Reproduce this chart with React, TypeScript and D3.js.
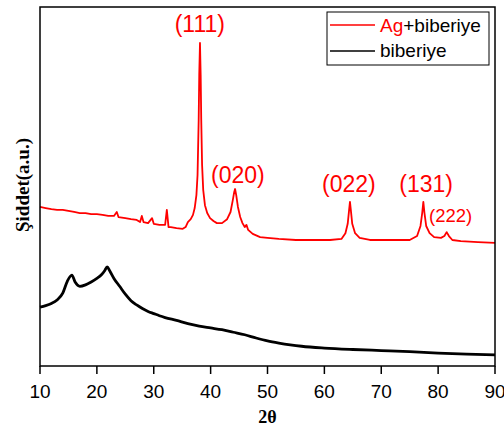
import React from "react";
import * as d3 from "d3";

const W = 504;
const H = 431;

// 2θ values and intensities (a.u.) for Ag+biberiye
const agTheta = [10, 11, 12, 13, 14, 15, 16, 17, 18, 19, 20, 21, 22, 23, 23.5, 23.8, 25, 26, 27, 27.6, 27.9, 28.2, 29, 29.7, 30, 31, 32, 32.3, 32.6, 33, 34, 35.1, 35.6, 36, 36.5, 36.9, 37.2, 37.5, 37.7, 37.9, 38.0, 38.13, 38.25, 38.35, 38.5, 38.7, 39.0, 39.4, 39.9, 40.5, 41.1, 42, 42.9, 43.5, 43.9, 44.15, 44.3, 44.5, 44.8, 45.2, 45.6, 46.0, 46.3, 46.6, 47.4, 48.7, 50, 52, 55, 58, 61, 63, 63.7, 64.1, 64.35, 64.5, 64.65, 64.9, 65.4, 66.2, 68, 72, 75, 76.3, 76.9, 77.2, 77.4, 77.6, 77.9, 78.5, 79.3, 80.5, 81.1, 81.5, 81.9, 82.5, 84, 87, 90];
const agInt = [443, 440, 437, 435, 435, 432, 429, 426, 426, 423, 423, 421, 418, 418, 429, 415, 412, 409, 407, 401, 418, 401, 398, 412, 396, 393, 393, 435, 387, 387, 384, 382, 387, 401, 409, 421, 440, 476, 532, 685, 811, 900, 811, 685, 560, 490, 448, 426, 412, 404, 398, 398, 409, 429, 462, 485, 493, 476, 443, 415, 398, 387, 393, 379, 368, 359, 357, 354, 351, 351, 351, 354, 370, 396, 435, 457, 435, 396, 370, 357, 351, 351, 351, 362, 390, 426, 457, 426, 390, 370, 359, 357, 362, 373, 362, 351, 348, 345, 343];

// 2θ values and intensities (a.u.) for biberiye
const bibTheta = [10, 11, 12, 13, 14, 14.8, 15.6, 16.2, 17, 18, 19, 20, 20.8, 21.4, 21.8, 22.3, 23, 24, 25, 26, 27, 28, 29, 30, 31, 32, 34, 36, 38, 40, 42, 44, 46, 48, 50, 52, 54, 56, 60, 65, 70, 75, 80, 85, 90];
const bibInt = [164, 168, 174, 184, 203, 236, 253, 233, 222, 226, 234, 244, 254, 266, 276, 264, 244, 222, 200, 182, 170, 160, 152, 146, 140, 135, 127, 118, 111, 106, 101, 94, 87, 78, 70, 64, 59, 55, 50, 46, 43, 40, 36, 33, 31];

const xTicks = [10, 20, 30, 40, 50, 60, 70, 80, 90];

const peakLabels = ["(111)", "(020)", "(022)", "(131)", "(222)"];
const peakTheta = [38.1, 44.8, 64.3, 77.9, 82.2];
const peakLabelInt = [930, 510, 485, 485, 400];
const peakLabelSize = [23, 23, 23, 23, 18.5];

const legendNames = ["Ag+biberiye", "biberiye"];
const seriesColors = ["#ff0000", "#000000"];

export default function App() {
  const left = 40, right = 495, top = 7, bottom = 366;
  const x = d3.scaleLinear().domain([10, 90]).range([left, right]);
  const y = d3.scaleLinear().domain([0, 1000]).range([bottom, top]);

  const line = d3
    .line<[number, number]>()
    .x((d) => x(d[0]))
    .y((d) => y(d[1]));
  const lineSmooth = d3
    .line<[number, number]>()
    .x((d) => x(d[0]))
    .y((d) => y(d[1]))
    .curve(d3.curveMonotoneX);

  const agData: [number, number][] = agTheta.map((t, i) => [t, agInt[i]]);
  const bibData: [number, number][] = bibTheta.map((t, i) => [t, bibInt[i]]);

  const sans = "Arial, 'Liberation Sans', sans-serif";
  const serif = "'Times New Roman', 'Liberation Serif', serif";

  return (
    <svg
      width={W}
      height={H}
      style={{ position: "absolute", left: 0, top: 0, background: "#fff" }}
    >
      <rect x={0} y={0} width={W} height={H} fill="#fff" />
      <path d={lineSmooth(bibData) || ""} fill="none" stroke={seriesColors[1]} strokeWidth={2.8} strokeLinejoin="round" />
      <path d={line(agData) || ""} fill="none" stroke={seriesColors[0]} strokeWidth={1.8} strokeLinejoin="round" />

      {/* frame */}
      <rect x={left} y={top} width={right - left} height={bottom - top} fill="none" stroke="#000" strokeWidth={1.5} />

      {/* x ticks */}
      {xTicks.map((t) => (
        <g key={t}>
          <line x1={x(t)} x2={x(t)} y1={bottom} y2={bottom + 8} stroke="#000" strokeWidth={1.5} />
          <text x={x(t)} y={398} textAnchor="middle" fontFamily={sans} fontSize={19} fill="#000">
            {t}
          </text>
        </g>
      ))}

      {/* axis titles */}
      <text x={(left + right) / 2} y={423} textAnchor="middle" fontFamily={serif} fontWeight="bold" fontSize={18} fill="#000">
        2θ
      </text>
      <text
        transform={`translate(29,185) rotate(-90)`}
        textAnchor="middle"
        fontFamily={serif}
        fontWeight="bold"
        fontSize={19}
        fill="#000"
      >
        Şiddet(a.u.)
      </text>

      {/* peak labels */}
      {peakLabels.map((l, i) => (
        <text
          key={l}
          x={x(peakTheta[i])}
          y={y(peakLabelInt[i])}
          textAnchor="middle"
          fontFamily={sans}
          fontSize={peakLabelSize[i]}
          fill="#ff0000"
        >
          {l}
        </text>
      ))}

      {/* legend */}
      <rect x={327} y={12} width={162} height={53} fill="#fff" stroke="#000" strokeWidth={1} />
      <line x1={330} x2={375} y1={25} y2={25} stroke={seriesColors[0]} strokeWidth={1.5} />
      <line x1={330} x2={375} y1={51} y2={51} stroke={seriesColors[1]} strokeWidth={1.5} />
      <text x={380} y={32} fontFamily={sans} fontSize={19} fill="#000">
        <tspan fill="#ff0000">Ag</tspan>
        <tspan>+biberiye</tspan>
      </text>
      <text x={380} y={57} fontFamily={sans} fontSize={19} fill="#000">
        {legendNames[1]}
      </text>
    </svg>
  );
}
